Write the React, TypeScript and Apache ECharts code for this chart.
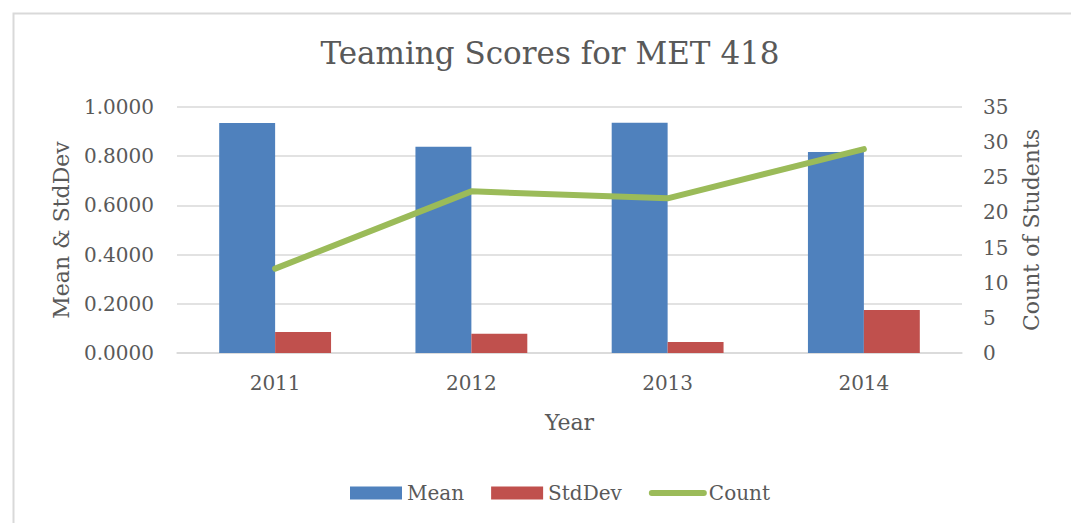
import React, { useEffect, useRef } from "react";
import * as echarts from "echarts";

const years = ["2011", "2012", "2013", "2014"];
const meanValues = [0.935, 0.838, 0.936, 0.817];
const stdDevValues = [0.085, 0.078, 0.045, 0.175];
const countValues = [12, 23, 22, 29];

const FONT = "DejaVu Serif";
const TXT = "#595959";

export default function App() {
  const ref = useRef<HTMLDivElement>(null);
  useEffect(() => {
    if (!ref.current) return;
    const chart = echarts.init(ref.current, null, { renderer: "svg" });
    chart.setOption({
      animation: false,
      backgroundColor: "#ffffff",
      textStyle: { fontFamily: FONT, color: TXT },
      graphic: [
        {
          type: "rect",
          left: 11,
          top: 11,
          shape: { width: 1200, height: 700 },
          style: { fill: "none", stroke: "#D9D9D9", lineWidth: 2 },
          silent: true,
          z: -1,
        },
      ],
      title: {
        text: "Teaming Scores for MET 418",
        left: 545,
        textAlign: "center",
        top: 32,
        textStyle: { fontFamily: FONT, fontSize: 31, fontWeight: "normal", color: TXT },
      },
      legend: {
        top: 478,
        left: 345,
        itemWidth: 52,
        itemHeight: 13,
        itemGap: 27,
        textStyle: { fontFamily: FONT, fontSize: 20, color: TXT },
        data: [
          { name: "Mean", icon: "rect" },
          { name: "StdDev", icon: "rect" },
          {
            name: "Count",
            itemStyle: { opacity: 0 },
            lineStyle: { width: 6, color: "#9BBB59", cap: "round" },
          },
        ],
      },
      grid: { left: 177, right: 109, top: 107, bottom: 170 },
      xAxis: {
        type: "category",
        data: years,
        name: "Year",
        nameLocation: "middle",
        nameGap: 58,
        nameTextStyle: { fontFamily: FONT, fontSize: 22, color: TXT },
        axisLine: { lineStyle: { color: "#D9D9D9", width: 1.5 } },
        axisTick: { show: false },
        axisLabel: { fontFamily: FONT, fontSize: 20, color: TXT, margin: 20 },
      },
      yAxis: [
        {
          type: "value",
          min: 0,
          max: 1,
          interval: 0.2,
          name: "Mean & StdDev",
          nameLocation: "middle",
          nameGap: 105,
          nameTextStyle: { fontFamily: FONT, fontSize: 22, color: TXT },
          axisLabel: {
            fontFamily: FONT,
            fontSize: 20,
            color: TXT,
            margin: 23,
            formatter: (v: number) => v.toFixed(4),
          },
          splitLine: { lineStyle: { color: "#D9D9D9", width: 1.5 } },
          axisLine: { show: false },
          axisTick: { show: false },
        },
        {
          type: "value",
          min: 0,
          max: 35,
          interval: 5,
          name: "Count of Students",
          nameLocation: "middle",
          nameGap: 58,
          nameTextStyle: { fontFamily: FONT, fontSize: 22, color: TXT },
          axisLabel: { fontFamily: FONT, fontSize: 20, color: TXT, margin: 21 },
          splitLine: { show: false },
          axisLine: { show: false },
          axisTick: { show: false },
        },
      ],
      series: [
        {
          name: "Mean",
          type: "bar",
          data: meanValues,
          barGap: "0%",
          barCategoryGap: "43%",
          itemStyle: { color: "#4F81BD" },
        },
        {
          name: "StdDev",
          type: "bar",
          data: stdDevValues,
          itemStyle: { color: "#C0504D" },
        },
        {
          name: "Count",
          type: "line",
          yAxisIndex: 1,
          data: countValues,
          symbol: "none",
          lineStyle: { color: "#9BBB59", width: 6, cap: "round" },
          itemStyle: { color: "#9BBB59" },
        },
      ],
    });
    return () => chart.dispose();
  }, []);
  return (
    <div
      ref={ref}
      style={{ position: "fixed", left: 0, top: 0, width: 1071, height: 523 }}
    />
  );
}
